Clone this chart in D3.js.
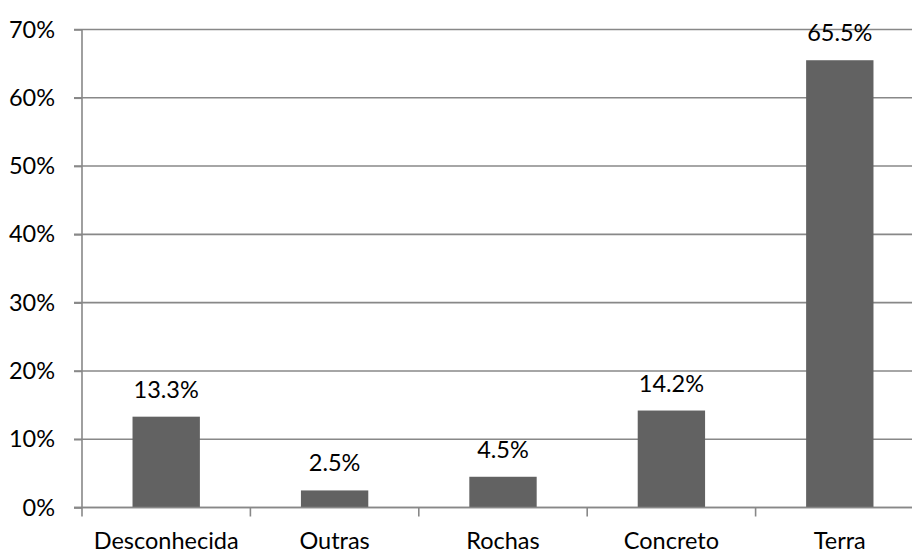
<!DOCTYPE html>
<html>
<head>
<meta charset="utf-8">
<script src="https://cdn.jsdelivr.net/npm/d3@7"></script>
<style>
  html, body { margin: 0; padding: 0; background: #fff; }
  svg { display: block; }
  text { font-family: Lato, "Open Sans", sans-serif; fill: #000; }
</style>
</head>
<body>
<svg id="chart" width="912" height="554"></svg>
<script>
// Share of each category
const categories = ["Desconhecida", "Outras", "Rochas", "Concreto", "Terra"];
const values = [0.133, 0.025, 0.045, 0.142, 0.655];
const valueLabels = ["13.3%", "2.5%", "4.5%", "14.2%", "65.5%"];
const yTicks = [0, 0.1, 0.2, 0.3, 0.4, 0.5, 0.6, 0.7];

const svg = d3.select("#chart");
const plotLeft = 82, plotRight = 924, plotTop = 29.5, plotBottom = 507.5;
const fontSize = 23.5;
const gridColor = "#888";

const x = d3.scaleBand().domain(categories).range([plotLeft, plotRight])
  .paddingInner(0.6).paddingOuter(0.3);
const y = d3.scaleLinear().domain([0, 0.7]).range([plotBottom, plotTop]);

// Horizontal gridlines
svg.append("g").selectAll("line").data(yTicks).join("line")
  .attr("x1", plotLeft - 8).attr("x2", plotRight)
  .attr("y1", d => y(d)).attr("y2", d => y(d))
  .attr("stroke", gridColor).attr("stroke-width", 1.6);

// Y axis
const yAxis = d3.axisLeft(y).tickValues(yTicks).tickFormat(d3.format(".0%"))
  .tickSize(8).tickPadding(19);
const gy = svg.append("g").attr("transform", `translate(${plotLeft},0)`).call(yAxis);
gy.select(".domain").remove();
gy.selectAll(".tick line").attr("stroke", gridColor).attr("stroke-width", 1.6);
gy.selectAll(".tick text").style("font-size", fontSize + "px").style("font-family", "Lato").attr("fill", "#000");
svg.append("line").attr("x1", plotLeft).attr("x2", plotLeft).attr("y1", plotTop).attr("y2", plotBottom + 9)
  .attr("stroke", gridColor).attr("stroke-width", 1.6);

// Category separator ticks below the baseline
const step = x.step();
const sepX = d3.range(1, categories.length + 1).map(i => plotLeft + i * step);
svg.append("g").selectAll("line").data(sepX).join("line")
  .attr("x1", d => d).attr("x2", d => d)
  .attr("y1", plotBottom).attr("y2", plotBottom + 9)
  .attr("stroke", gridColor).attr("stroke-width", 1.6);

// Bars
svg.append("g").selectAll("rect").data(values).join("rect")
  .attr("x", (d, i) => x(categories[i]))
  .attr("width", x.bandwidth())
  .attr("y", d => y(d))
  .attr("height", d => y(0) - y(d))
  .attr("fill", "#626262");

// Value labels
svg.append("g").selectAll("text").data(values).join("text")
  .attr("x", (d, i) => x(categories[i]) + x.bandwidth() / 2)
  .attr("y", d => y(d) - 19)
  .attr("text-anchor", "middle")
  .style("font-size", fontSize + "px")
  .text((d, i) => valueLabels[i]);

// Category labels
svg.append("g").selectAll("text").data(categories).join("text")
  .attr("x", d => x(d) + x.bandwidth() / 2)
  .attr("y", 549)
  .attr("text-anchor", "middle")
  .style("font-size", fontSize + "px")
  .text(d => d);

// Baseline drawn on top of bars
svg.append("line").attr("x1", plotLeft - 8).attr("x2", plotRight)
  .attr("y1", plotBottom).attr("y2", plotBottom)
  .attr("stroke", gridColor).attr("stroke-width", 1.6);
</script>
</body>
</html>
